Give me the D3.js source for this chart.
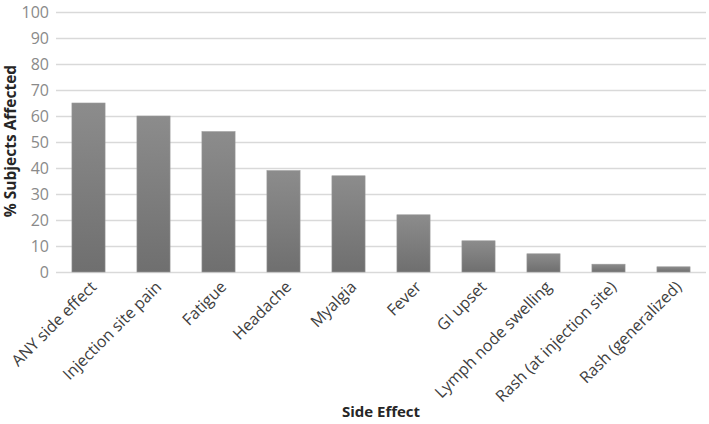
<!DOCTYPE html>
<html><head><meta charset="utf-8">
<script src="https://cdn.jsdelivr.net/npm/d3@7"></script>
<style>body{margin:0;background:#fff}svg{display:block}</style>
</head><body>
<script>
const categories = ["ANY side effect","Injection site pain","Fatigue","Headache","Myalgia","Fever","GI upset","Lymph node swelling","Rash (at injection site)","Rash (generalized)"];
const values = [65,60,54,39,37,22,12,7,3,2];
const yTicks = [0,10,20,30,40,50,60,70,80,90,100];

(function(){
const W=709,H=424;
const svg=d3.select("body").append("svg").attr("width",W).attr("height",H);
const defs=svg.append("defs");
const g0=defs.append("linearGradient").attr("id","bg").attr("x1",0).attr("y1",0).attr("x2",0).attr("y2",1);
g0.append("stop").attr("offset","0%").attr("stop-color","#8c8c8c");
g0.append("stop").attr("offset","100%").attr("stop-color","#6f6f6f");

const mL=56,mR=706,mT=12,mB=272;
const x=d3.scaleBand().domain(categories).range([mL,mR]).paddingInner(0.49).paddingOuter(0.245);
const y=d3.scaleLinear().domain([0,100]).range([mB,mT]);

const yAxis=svg.append("g").attr("transform",`translate(${mL},0)`)
  .call(d3.axisLeft(y).tickValues(yTicks).tickSize(-(mR-mL)).tickPadding(7));
yAxis.select(".domain").remove();
yAxis.selectAll(".tick line").attr("stroke","#d9d9d9").attr("stroke-width",1.3);
yAxis.selectAll(".tick text").attr("fill","#8a8a8a").style("font-family","'Open Sans',sans-serif").style("font-size","16px");

svg.append("g").selectAll("rect").data(values).join("rect")
  .attr("x",(d,i)=>x(categories[i]))
  .attr("y",d=>y(d))
  .attr("width",x.bandwidth())
  .attr("height",d=>y(0)-y(d))
  .attr("fill","url(#bg)")
  .attr("stroke","#9a9a9a").attr("stroke-width",0.6);

const xAxis=svg.append("g").attr("transform",`translate(0,${mB})`)
  .call(d3.axisBottom(x).tickSize(0).tickPadding(0));
xAxis.select(".domain").remove();
xAxis.selectAll(".tick text")
  .attr("text-anchor","end")
  .attr("transform","translate(5,12) rotate(-45)")
  .attr("dy","0.35em")
  .attr("fill","#404040")
  .style("font-family","'Open Sans',sans-serif").style("font-size","16px");

svg.append("text").attr("x",381).attr("y",417).attr("text-anchor","middle")
  .attr("fill","#262626").style("font-family","'Open Sans',sans-serif").style("font-size","15px").style("font-weight","bold")
  .text("Side Effect");
svg.append("text").attr("transform","translate(16,141) rotate(-90)").attr("text-anchor","middle")
  .attr("fill","#262626").style("font-family","'Open Sans',sans-serif").style("font-size","15.5px").style("font-weight","bold")
  .text("% Subjects Affected");
})();
</script>
</body></html>
